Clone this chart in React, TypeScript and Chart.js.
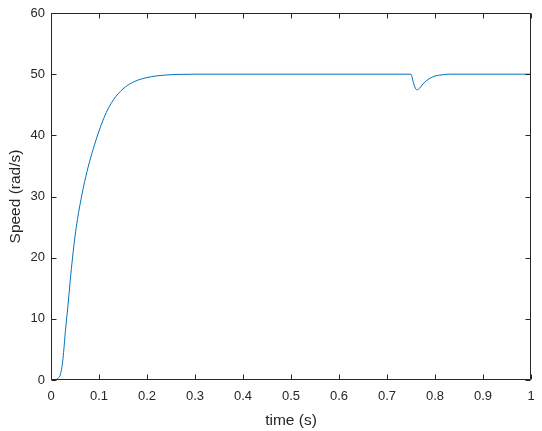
import React, { useEffect, useRef } from "react";
import { Chart, registerables } from "chart.js";

Chart.register(...registerables);

const timeS = [
  0, 0.005, 0.01, 0.015, 0.02, 0.025, 0.03, 0.035, 0.04, 0.045, 0.05, 0.055, 0.06, 0.07, 0.08,
  0.09, 0.1, 0.11, 0.12, 0.13, 0.14, 0.15, 0.16, 0.17, 0.18, 0.19, 0.2, 0.22, 0.24, 0.26, 0.3,
  0.4, 0.5, 0.6, 0.7, 0.75, 0.752, 0.755, 0.758, 0.762, 0.765, 0.77, 0.775, 0.78, 0.785, 0.79,
  0.8, 0.81, 0.82, 0.83, 0.85, 0.9, 1.0,
];
const speed = [
  0, 0, 0.05, 0.3, 1.0, 3.5, 8.0, 11.9, 16.2, 20.1, 23.5, 26.2, 28.5, 32.4, 35.6,
  38.3, 40.7, 42.8, 44.5, 45.8, 46.8, 47.6, 48.2, 48.65, 49.0, 49.25, 49.45, 49.72, 49.87, 49.95, 50,
  50, 50, 50, 50, 50, 49.6, 48.6, 47.9, 47.45, 47.5, 47.9, 48.4, 48.8, 49.1, 49.35,
  49.7, 49.85, 49.95, 50, 50, 50, 50,
];
const xTicks = [0, 0.1, 0.2, 0.3, 0.4, 0.5, 0.6, 0.7, 0.8, 0.9, 1];
const yTicks = [0, 10, 20, 30, 40, 50, 60];

const AXIS_COLOR = "#262626";
const FONT = "'Liberation Sans', Arial, Helvetica, sans-serif";

const boxPlugin = {
  id: "matlabBox",
  afterDraw(chart: any) {
    const { ctx, chartArea } = chart;
    const { left, right, top, bottom } = chartArea;
    const xs = chart.scales.x;
    const ys = chart.scales.y;
    ctx.save();
    ctx.strokeStyle = AXIS_COLOR;
    ctx.lineWidth = 1;
    ctx.beginPath();
    const L = Math.round(left) + 0.5;
    const R = Math.round(right) - 0.5;
    const T = Math.round(top) + 0.5;
    const B = Math.round(bottom) - 0.5;
    ctx.rect(L, T, R - L, B - T);
    const tl = 5;
    xTicks.forEach((v) => {
      const px = Math.round(xs.getPixelForValue(v)) + 0.5;
      ctx.moveTo(px, B);
      ctx.lineTo(px, B - tl);
      ctx.moveTo(px, T);
      ctx.lineTo(px, T + tl);
    });
    yTicks.forEach((v) => {
      const py = Math.round(ys.getPixelForValue(v)) + 0.5;
      ctx.moveTo(L, py);
      ctx.lineTo(L + tl, py);
      ctx.moveTo(R, py);
      ctx.lineTo(R - tl, py);
    });
    ctx.stroke();
    ctx.restore();
  },
};

export default function App() {
  const ref = useRef<HTMLCanvasElement | null>(null);
  useEffect(() => {
    if (!ref.current) return;
    const chart = new Chart(ref.current, {
      type: "line",
      data: {
        datasets: [
          {
            data: timeS.map((t, i) => ({ x: t, y: speed[i] })),
            borderColor: "#0072BD",
            borderWidth: 1,
            pointRadius: 0,
            fill: false,
            cubicInterpolationMode: "monotone",
          },
        ],
      },
      options: {
        animation: false,
        responsive: false,
        devicePixelRatio: 1,
        layout: { padding: { top: 13, right: 11, left: 0, bottom: 0 } },
        plugins: { legend: { display: false }, tooltip: { enabled: false } },
        scales: {
          x: {
            type: "linear",
            min: 0,
            max: 1,
            afterFit: (s: any) => {
              s.height = 51;
              s.paddingLeft = 0;
              s.paddingRight = 0;
            },
            afterBuildTicks: (s: any) => {
              s.ticks = xTicks.map((v) => ({ value: v }));
            },
            ticks: {
              color: AXIS_COLOR,
              font: { family: FONT, size: 13 },
              padding: 9,
              maxRotation: 0,
              callback: (v: any) => (v === 0 ? "0" : v === 1 ? "1" : Number(v).toFixed(1)),
            },
            grid: { display: false, drawTicks: false },
            border: { display: false },
            title: {
              display: true,
              text: "time (s)",
              color: AXIS_COLOR,
              font: { family: FONT, size: 15.5 },
              padding: { top: 0, bottom: 1 },
            },
          },
          y: {
            type: "linear",
            min: 0,
            max: 60,
            afterFit: (s: any) => {
              s.width = 51;
              s.paddingTop = 0;
              s.paddingBottom = 0;
            },
            afterBuildTicks: (s: any) => {
              s.ticks = yTicks.map((v) => ({ value: v }));
            },
            ticks: {
              color: AXIS_COLOR,
              font: { family: FONT, size: 13 },
              padding: 6,
            },
            grid: { display: false, drawTicks: false },
            border: { display: false },
            title: {
              display: true,
              text: "Speed (rad/s)",
              color: AXIS_COLOR,
              font: { family: FONT, size: 15.5 },
              padding: { top: 6, bottom: 0 },
            },
          },
        },
      },
      plugins: [boxPlugin],
    } as any);
    return () => chart.destroy();
  }, []);
  return (
    <div style={{ position: "fixed", left: 0, top: 0, width: 542, height: 431, background: "#fff" }}>
      <canvas ref={ref} width={542} height={431} style={{ display: "block" }} />
    </div>
  );
}
